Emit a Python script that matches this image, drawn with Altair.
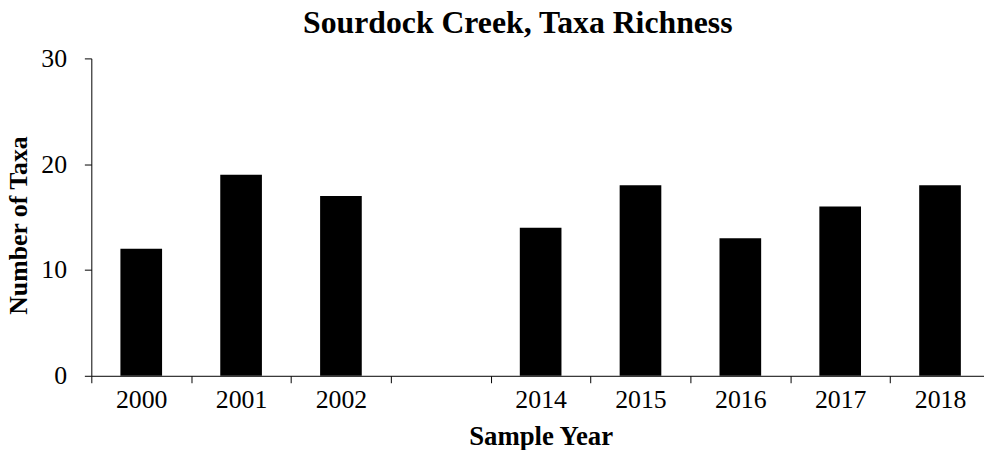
import altair as alt
import pandas as pd

years = ["2000", "2001", "2002", "", "2014", "2015", "2016", "2017", "2018"]
taxa = [12, 19, 17, None, 14, 18, 13, 16, 18]

df = pd.DataFrame({"year": years, "taxa": taxa})

FONT = "Liberation Serif"

chart = alt.Chart(df).mark_bar(color="black", width=42).encode(
    x=alt.X(
        "year:N",
        sort=years,
        scale=alt.Scale(domain=years, range=[0, 906], paddingInner=0, paddingOuter=0),
        axis=alt.Axis(
            title="Sample Year",
            labelAngle=0,
            tickBand="extent",
            tickSize=7,
            labelPadding=4,
            titlePadding=11,
            labelFontSize=26,
            titleFontSize=27,
        ),
    ),
    y=alt.Y(
        "taxa:Q",
        scale=alt.Scale(domain=[0, 30]),
        axis=alt.Axis(
            title="Number of Taxa",
            values=[0, 10, 20, 30],
            tickSize=7,
            labelPadding=18,
            titlePadding=9,
            titleY=168,
            labelFontSize=26,
            titleFontSize=26,
            grid=False,
        ),
    ),
).properties(
    width=900,
    height=320,
    title=alt.TitleParams(
        "Sourdock Creek, Taxa Richness",
        font=FONT,
        fontSize=32,
        fontWeight="bold",
        color="black",
        anchor="middle",
        dx=-20,
        dy=4,
        offset=10,
    ),
    autosize=alt.AutoSizeParams(type="none"),
    padding={"left": 84, "top": 49, "right": 0, "bottom": 73},
).configure_view(
    stroke=None
).configure_axis(
    labelFont=FONT,
    titleFont=FONT,
    labelColor="black",
    titleColor="black",
    titleFontWeight="bold",
    domainColor="black",
    tickColor="black",
    domainWidth=1,
    tickWidth=1,
    grid=False,
)

chart.save("out.html", embed_options={"renderer": "svg", "actions": False})
